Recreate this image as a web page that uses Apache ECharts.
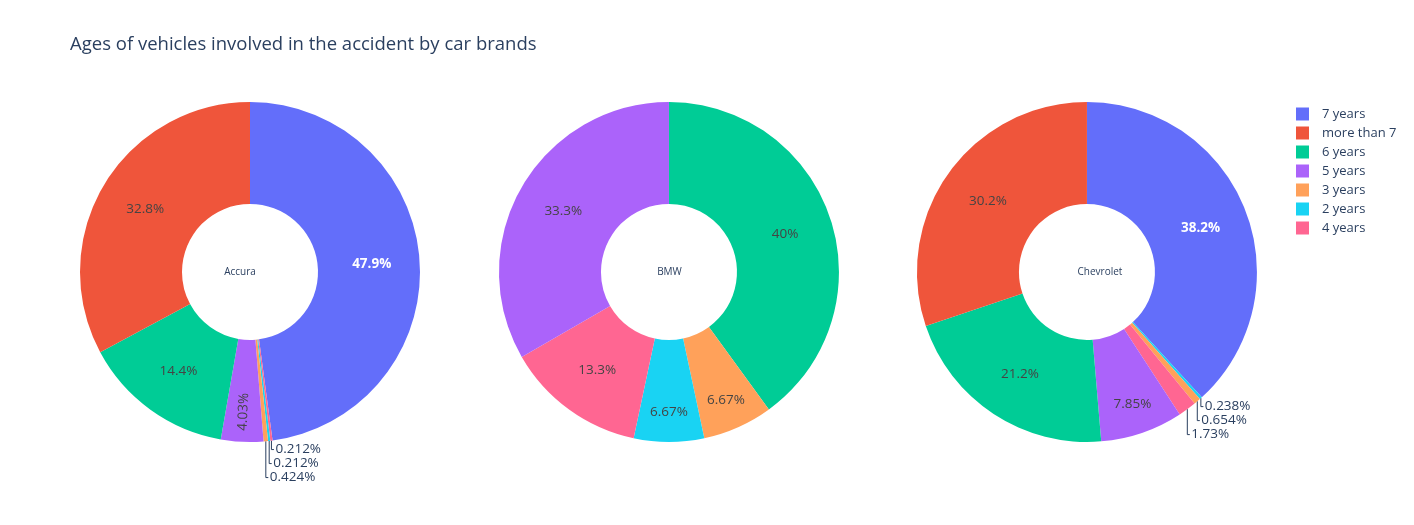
<!DOCTYPE html>
<html>
<head>
<meta charset="utf-8">
<script src="https://cdn.jsdelivr.net/npm/echarts@6/dist/echarts.min.js"></script>
<style>
html,body{margin:0;padding:0;background:#ffffff;}
#chart{width:1414px;height:525px;}
</style>
</head>
<body>
<div id="chart"></div>
<script>
// ---------------- DATA ----------------
const chartTitle = 'Ages of vehicles involved in the accident by car brands';
const categories = ['7 years', 'more than 7', '6 years', '5 years', '3 years', '2 years', '4 years'];
const brands = ['Accura', 'BMW', 'Chevrolet'];

// slices listed in clockwise drawing order starting at 12 o'clock (counts of vehicles)
const accuraNames = ['7 years', '4 years', '2 years', '3 years', '5 years', '6 years', 'more than 7'];
const accuraCounts = [226, 1, 1, 2, 19, 68, 155];

const bmwNames = ['6 years', '3 years', '2 years', '4 years', '5 years'];
const bmwCounts = [6, 1, 1, 2, 5];

const chevroletNames = ['7 years', '2 years', '3 years', '4 years', '5 years', '6 years', 'more than 7'];
const chevroletCounts = [642, 4, 11, 29, 132, 356, 507];

// ---------------- STYLE / LAYOUT ----------------
const categoryColors = {
  '7 years': '#636efa', 'more than 7': '#EF553B', '6 years': '#00cc96', '5 years': '#ab63fa',
  '3 years': '#FFA15A', '2 years': '#19d3f3', '4 years': '#FF6692'
};
const darkSlices = ['7 years'];
const FONT = '"Open Sans", verdana, arial, sans-serif';
const pieCentersX = [0.1768, 0.4731, 0.7687];
const pieCenterY = 0.518;
const R_OUT = 170, R_IN = 68;
const brandLabelX = [240, 669.5, 1100];
const OUTSIDE_LIMIT = 2;   // percent below which labels go outside
const RADIAL_LIMIT = 5;    // percent below which inside labels are rotated
const NARROW_LIMIT = 10;   // percent below which inside labels are pushed outward
const NARROW_LABEL_R = 140;

const seriesNames = [accuraNames, bmwNames, chevroletNames];
const seriesCounts = [accuraCounts, bmwCounts, chevroletCounts];

const chart = echarts.init(document.getElementById('chart'), null, {renderer: 'canvas'});

function fmtPct(v) {
  return parseFloat(v.toPrecision(3)).toString() + '%';
}

function makeLabelLayout(si) {
  return function (params) {
    const vals = seriesCounts[si];
    const total = vals.reduce((a, b) => a + b, 0);
    const pctThis = vals[params.dataIndex] / total * 100;
    const w = chart.getWidth(), h = chart.getHeight();
    const cx = pieCentersX[si] * w, cy = pieCenterY * h;
    if (pctThis >= NARROW_LIMIT) return {};
    if (pctThis >= OUTSIDE_LIMIT) {
      let before = 0;
      for (let i = 0; i < params.dataIndex; i++) before += vals[i];
      const mid = (before + vals[params.dataIndex] / 2) / total * 2 * Math.PI;
      return {
        x: cx + NARROW_LABEL_R * Math.sin(mid),
        y: cy - NARROW_LABEL_R * Math.cos(mid),
        align: 'center', verticalAlign: 'middle'
      };
    }
    let cum = 0, prevY = -Infinity, res = {};
    for (let i = 0; i < vals.length; i++) {
      const p = vals[i] / total * 100;
      const mid = (cum + vals[i] / 2) / total * 2 * Math.PI;
      cum += vals[i];
      if (p >= OUTSIDE_LIMIT) continue;
      const dy = -Math.cos(mid);
      const ex = cx + R_OUT * Math.sin(mid);
      const ey = cy + R_OUT * dy;
      const ly = Math.max(ey + 2 * Math.abs(dy) + 7, prevY + 14);
      prevY = ly;
      if (i === params.dataIndex) {
        res = {
          x: ex + 4, y: ly, align: 'left', verticalAlign: 'middle',
          labelLinePoints: [[ex, ey], [ex, ly], [ex + 2.5, ly]]
        };
      }
    }
    return res;
  };
}

const series = brands.map((brand, si) => {
  const names = seriesNames[si];
  const vals = seriesCounts[si];
  const total = vals.reduce((a, b) => a + b, 0);
  return {
    type: 'pie',
    name: brand,
    center: [(pieCentersX[si] * 100) + '%', (pieCenterY * 100) + '%'],
    radius: [R_IN, R_OUT],
    startAngle: 90,
    clockwise: true,
    avoidLabelOverlap: false,
    animation: false,
    silent: true,
    itemStyle: {borderWidth: 0},
    label: {
      show: true,
      position: 'inside',
      fontFamily: FONT,
      fontSize: 13.5,
      color: '#444444',
      formatter: (p) => fmtPct(p.value / total * 100)
    },
    labelLine: {show: false},
    labelLayout: makeLabelLayout(si),
    data: names.map((n, i) => {
      const pct = vals[i] / total * 100;
      const item = {name: n, value: vals[i], itemStyle: {color: categoryColors[n]}};
      if (pct < OUTSIDE_LIMIT) {
        item.label = {position: 'outside', color: '#2a3f5f', fontSize: 13.5};
        item.labelLine = {show: true, lineStyle: {color: '#2a3f5f', width: 1}};
      } else {
        const lbl = {};
        if (darkSlices.indexOf(n) >= 0) { lbl.color = '#ffffff'; lbl.fontWeight = 'bold'; }
        if (pct < RADIAL_LIMIT) { lbl.rotate = 'radial'; }
        item.label = lbl;
      }
      return item;
    })
  };
});

const option = {
  backgroundColor: '#ffffff',
  title: {
    text: chartTitle,
    left: 70,
    top: 35,
    padding: 0,
    textStyle: {fontFamily: FONT, fontSize: 18.5, fontWeight: 'normal', color: '#2a3f5f'}
  },
  legend: {
    orient: 'vertical',
    left: 1296,
    top: 107.5,
    padding: 0,
    data: categories,
    icon: 'rect',
    itemWidth: 13,
    itemHeight: 13,
    itemGap: 6,
    selectedMode: false,
    textStyle: {fontFamily: FONT, fontSize: 13, color: '#2a3f5f', padding: [0, 0, 0, 8]}
  },
  graphic: brands.map((b, i) => ({
    type: 'text',
    x: brandLabelX[i],
    y: pieCenterY * 525,
    style: {text: b, fontFamily: FONT, fontSize: 10, fill: '#2a3f5f', align: 'center', verticalAlign: 'middle'}
  })),
  series: series
};

chart.setOption(option);
</script>
</body>
</html>
